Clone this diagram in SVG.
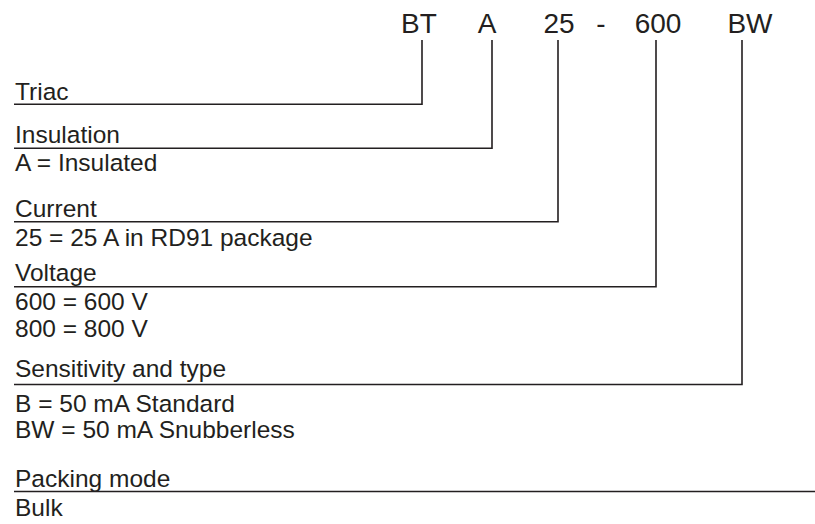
<svg xmlns="http://www.w3.org/2000/svg" width="815" height="524" viewBox="0 0 815 524">
<style>
text{font-family:"Liberation Sans",Arial,sans-serif;fill:#231f20}
.code{font-size:28px;text-anchor:middle}
.lbl{font-size:24.5px}
.ln{fill:none;stroke:#231f20;stroke-width:1.6}
</style>
<rect width="815" height="524" fill="#fff"/>
<g id="code">
<text class="code" x="419" y="33">BT</text>
<text class="code" x="487" y="33">A</text>
<text class="code" x="559" y="33">25</text>
<text class="code" x="601" y="33">-</text>
<text class="code" x="658" y="33">600</text>
<text class="code" x="750" y="33">BW</text>
</g>
<g id="connectors">
<polyline class="ln" points="14,104.3 422,104.3 422,40"/>
<polyline class="ln" points="14,148.3 492,148.3 492,40"/>
<polyline class="ln" points="14,221.7 558,221.7 558,40"/>
<polyline class="ln" points="14,286.7 656,286.7 656,40"/>
<polyline class="ln" points="14,384.5 742,384.5 742,40"/>
<line class="ln" x1="14" y1="491.5" x2="815" y2="491.5"/>
</g>
<g id="triac"><text class="lbl" x="15" y="100">Triac</text></g>
<g id="insulation"><text class="lbl" x="15" y="143">Insulation</text><text class="lbl" x="15" y="171">A = Insulated</text></g>
<g id="current"><text class="lbl" x="15" y="216.5">Current</text><text class="lbl" x="15" y="245.5">25 = 25 A in RD91 package</text></g>
<g id="voltage"><text class="lbl" x="15" y="281">Voltage</text><text class="lbl" x="15" y="310">600 = 600 V</text><text class="lbl" x="15" y="336.5">800 = 800 V</text></g>
<g id="sensitivity"><text class="lbl" x="15" y="377">Sensitivity  and type</text><text class="lbl" x="15" y="411.5">B = 50 mA Standard</text><text class="lbl" x="15" y="438">BW = 50 mA Snubberless</text></g>
<g id="packing"><text class="lbl" x="15" y="486.5">Packing mode</text><text class="lbl" x="15" y="516">Bulk</text></g>
</svg>
